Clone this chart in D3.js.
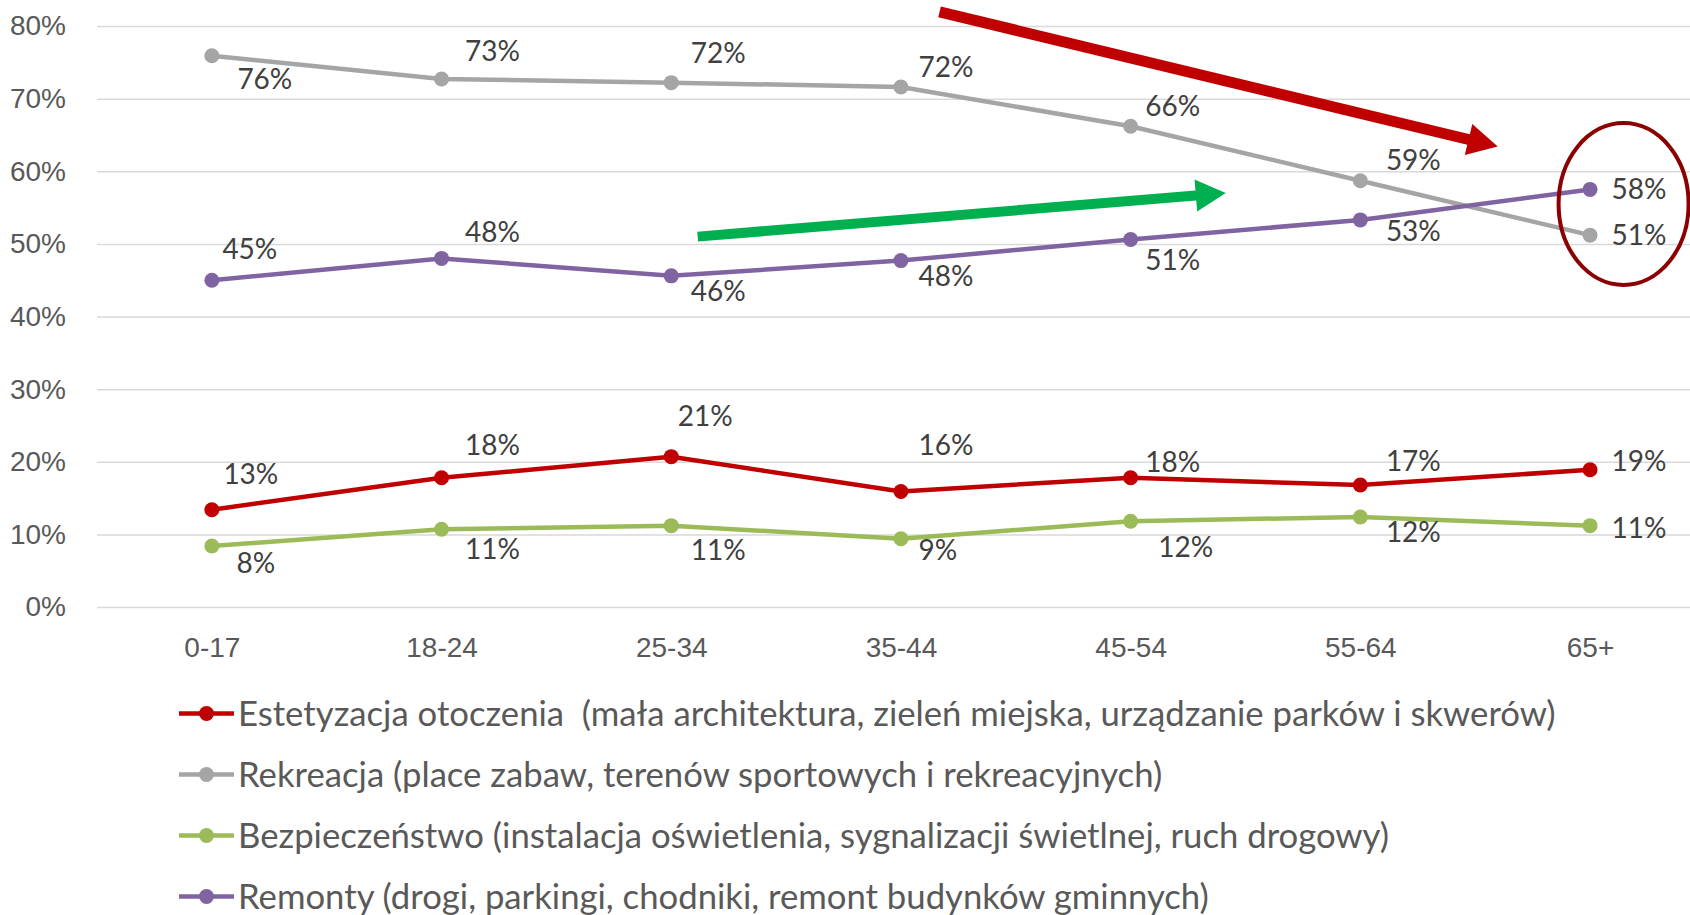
<!DOCTYPE html>
<html>
<head>
<meta charset="utf-8">
<script src="https://cdn.jsdelivr.net/npm/d3@7"></script>
<style>
    body { margin: 0; background: #fff; }
    svg { display: block; font-family: Lato, 'Open Sans', sans-serif; }
</style>
</head>
<body>
<svg></svg>
<script>
// categories and series (percent)
let categories = ['0-17', '18-24', '25-34', '35-44', '45-54', '55-64', '65+'];
let estetyzacja = [13.4, 17.8, 20.7, 15.9, 17.8, 16.8, 18.9];
let rekreacja = [75.9, 72.7, 72.2, 71.6, 66.2, 58.7, 51.2];
let bezpieczenstwo = [8.4, 10.7, 11.2, 9.4, 11.8, 12.4, 11.2];
let remonty = [45.0, 48.0, 45.6, 47.7, 50.6, 53.3, 57.5];
let yTicks = [0, 10, 20, 30, 40, 50, 60, 70, 80];

let legendNames = [
    'Estetyzacja otoczenia  (mała architektura, zieleń miejska, urządzanie parków i skwerów)',
    'Rekreacja (place zabaw, terenów sportowych i rekreacyjnych)',
    'Bezpieczeństwo (instalacja oświetlenia, sygnalizacji świetlnej, ruch drogowy)',
    'Remonty (drogi, parkingi, chodniki, remont budynków gminnych)'
];

// manual label nudges (px, from the point) like in the original
let labelNudge = [
    [[39, -36], [51, -33], [34, -41], [45, -47], [42, -16], [53, -24], [49, -9]],
    [[53, 23], [51, -28], [47, -30], [45, -20], [42, -20], [53, -21], [49, 0]],
    [[44, 17], [51, 20], [47, 24], [37, 11], [55, 26], [53, 15], [49, 2]],
    [[38, -31], [51, -26], [47, 15], [45, 15], [42, 20], [53, 11], [49, 0]]
];

let width = 1690;
let height = 915;
let plotLeft = 97;
let plotTop = 26;
let plotBottom = 607;

let series = [
    { name: legendNames[0], values: estetyzacja, color: '#c00000' },
    { name: legendNames[1], values: rekreacja, color: '#a5a5a5' },
    { name: legendNames[2], values: bezpieczenstwo, color: '#9bbb59' },
    { name: legendNames[3], values: remonty, color: '#8064a2' }
];

let svg = d3.select('svg')
    .attr('width', width)
    .attr('height', height);

let xScale = d3.scalePoint()
    .domain(categories)
    .range([plotLeft, plotLeft + 7 * 229.7])
    .padding(0.5);

// fractional category position, used for the annotations
let xIdx = d3.scaleLinear()
    .domain([0, categories.length - 1])
    .range([xScale(categories[0]), xScale(categories[categories.length - 1])]);

let yScale = d3.scaleLinear()
    .domain([0, 80])
    .range([plotBottom, plotTop]);

// y axis + gridlines
let yAxis = d3.axisLeft(yScale)
    .tickValues(yTicks)
    .tickFormat(d => d + '%')
    .tickSize(-(width - plotLeft))
    .tickPadding(31);

let yG = svg.append('g')
    .attr('transform', `translate(${plotLeft}, 0)`)
    .call(yAxis);
yG.select('.domain').remove();
yG.selectAll('line').attr('stroke', '#d9d9d9').attr('stroke-width', 1.5);
yG.selectAll('text').attr('fill', '#595959').style('font-size', '28px');

let xAxis = d3.axisBottom(xScale)
    .tickSize(0)
    .tickPadding(30);

let xG = svg.append('g')
    .attr('transform', `translate(0, ${plotBottom})`)
    .call(xAxis);
xG.select('.domain').remove();
xG.selectAll('text').attr('fill', '#595959').style('font-size', '28px');

// lines
let line = d3.line()
    .x((d, i) => xScale(categories[i]))
    .y(d => yScale(d));

series.forEach((s, si) => {
    let g = svg.append('g');
    g.append('path')
        .datum(s.values)
        .attr('d', line)
        .attr('fill', 'none')
        .attr('stroke', s.color)
        .attr('stroke-width', 4.5)
        .attr('stroke-linejoin', 'round');
    g.selectAll('circle')
        .data(s.values)
        .enter()
        .append('circle')
        .attr('cx', (d, i) => xScale(categories[i]))
        .attr('cy', d => yScale(d))
        .attr('r', 7.5)
        .attr('fill', s.color);
});

series.forEach((s, si) => {
    svg.append('g')
        .selectAll('text')
        .data(s.values)
        .enter()
        .append('text')
        .attr('x', (d, i) => xScale(categories[i]) + labelNudge[si][i][0])
        .attr('y', (d, i) => yScale(d) + labelNudge[si][i][1])
        .attr('dy', '0.36em')
        .attr('text-anchor', 'middle')
        .attr('fill', '#404040')
        .style('font-size', '28px')
        .text(d => Math.round(d) + '%');
});

// annotations: arrows and the ellipse
const arrow = (x1, y1, x2, y2, shaft, headW, headL, color) => {
    let a = Math.atan2(y2 - y1, x2 - x1);
    let len = Math.hypot(x2 - x1, y2 - y1);
    let pts = [
        [0, -shaft / 2], [len - headL, -shaft / 2], [len - headL, -headW / 2],
        [len, 0], [len - headL, headW / 2], [len - headL, shaft / 2], [0, shaft / 2]
    ].map(p => [
        x1 + p[0] * Math.cos(a) - p[1] * Math.sin(a),
        y1 + p[0] * Math.sin(a) + p[1] * Math.cos(a)
    ]);
    svg.append('polygon')
        .attr('points', pts.map(p => p.join(',')).join(' '))
        .attr('fill', color);
};

arrow(xIdx(3.168), yScale(81.95), xIdx(5.598), yScale(63.4), 11, 32, 30, '#c00000');
arrow(xIdx(2.115), yScale(51.0), xIdx(4.414), yScale(57.0), 10, 32, 30, '#00b050');

svg.append('ellipse')
    .attr('cx', xIdx(6.146))
    .attr('cy', yScale(55.5))
    .attr('rx', 65)
    .attr('ry', 81)
    .attr('fill', 'none')
    .attr('stroke', '#8b0000')
    .attr('stroke-width', 4);

// legend
let legend = svg.append('g')
    .selectAll('g')
    .data(series)
    .enter()
    .append('g')
    .attr('transform', (d, i) => `translate(0, ${713.5 + i * 61})`);

legend.append('line')
    .attr('x1', 179).attr('x2', 234)
    .attr('stroke', d => d.color)
    .attr('stroke-width', 4.5);
legend.append('circle')
    .attr('cx', 206.5)
    .attr('r', 7.5)
    .attr('fill', d => d.color);
legend.append('text')
    .attr('x', 238)
    .attr('dy', '0.36em')
    .attr('fill', '#595959')
    .style('font-size', '34.7px')
    .style('white-space', 'pre')
    .text(d => d.name);
</script>
</body>
</html>
